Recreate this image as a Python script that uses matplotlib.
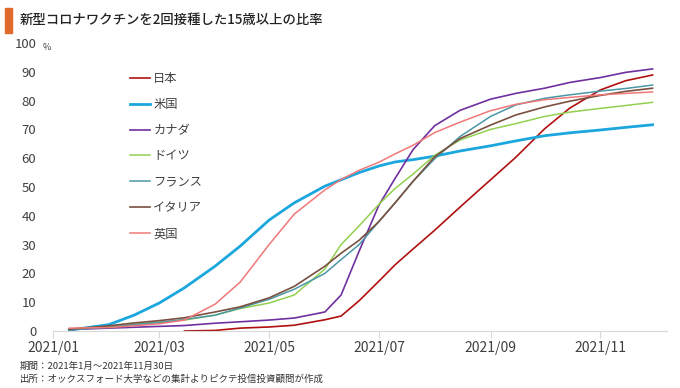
import matplotlib
matplotlib.use("Agg")
import matplotlib.pyplot as plt
import matplotlib.dates as mdates
import numpy as np
import pandas as pd

plt.rcParams['font.family'] = ['Noto Sans CJK JP', 'DejaVu Sans']

# data (share of population 15+ fully vaccinated, %)
dates = pd.to_datetime([
    "2021-01-10", "2021-02-01", "2021-02-15", "2021-03-01", "2021-03-15",
    "2021-04-01", "2021-04-15", "2021-05-01", "2021-05-15", "2021-06-01",
    "2021-06-10", "2021-06-20", "2021-07-01", "2021-07-10", "2021-07-20",
    "2021-08-01", "2021-08-15", "2021-09-01", "2021-09-15", "2021-10-01",
    "2021-10-15", "2021-11-01", "2021-11-15", "2021-11-30"])

japan = [np.nan, np.nan, np.nan, np.nan, 0.0, 0.2, 1.0, 1.4, 2.0, 3.9,
         5.2, 10.5, 17.3, 23.0, 28.5, 35.0, 43.0, 52.5, 60.3, 70.2,
         77.4, 83.7, 86.9, 88.9]
usa = [0.3, 2.2, 5.5, 9.7, 15.0, 22.5, 29.5, 38.5, 44.5, 50.3,
       52.5, 55.0, 57.3, 58.7, 59.5, 60.7, 62.5, 64.3, 66.0, 67.8,
       68.8, 69.8, 70.7, 71.6]
canada = [0.5, 1.0, 1.3, 1.6, 1.9, 2.7, 3.2, 3.8, 4.5, 6.6,
          12.5, 27.7, 43.7, 53.0, 63.0, 71.3, 76.6, 80.5, 82.5, 84.3,
          86.3, 88.0, 89.8, 91.0]
germany = [0.5, 1.5, 2.3, 3.0, 3.8, 5.5, 7.8, 9.7, 12.5, 21.5,
           30.0, 36.5, 44.0, 49.5, 54.5, 61.0, 66.3, 70.0, 72.0, 74.5,
           76.0, 77.3, 78.3, 79.4]
france = [0.5, 1.3, 2.2, 3.0, 4.0, 5.5, 8.0, 11.0, 14.5, 20.0,
          24.8, 30.0, 38.0, 44.5, 52.0, 59.8, 67.5, 74.5, 78.5, 80.8,
          82.0, 83.3, 84.2, 85.4]
italy = [0.6, 1.8, 2.8, 3.6, 4.6, 6.6, 8.4, 11.5, 15.5, 22.5,
         27.0, 31.5, 38.0, 44.5, 52.0, 60.5, 66.8, 71.5, 75.0, 77.8,
         79.8, 81.8, 83.2, 84.3]
uk = [1.0, 1.2, 1.8, 2.5, 3.8, 9.3, 17.0, 30.0, 40.6, 49.0,
      52.6, 55.8, 58.6, 61.5, 64.5, 68.9, 72.5, 76.5, 78.7, 80.3,
      81.1, 82.0, 82.5, 83.0]

names = ["日本", "米国", "カナダ", "ドイツ", "フランス", "イタリア", "英国"]
series = [japan, usa, canada, germany, france, italy, uk]
colors = ["#B01010", "#1BA7DD", "#7030A0", "#92D050", "#4A97A6", "#7A5040", "#F07878"]
widths = [1.2, 2.0, 1.2, 1.1, 1.1, 1.2, 1.1]

fig = plt.figure(figsize=(6.8, 3.88), dpi=100)
ax = fig.add_axes([53 / 680, 1 - 331 / 388, 614 / 680, 288 / 388])

for name, vals, c, lw in zip(names, series, colors, widths):
    ax.plot(dates, vals, color=c, lw=lw, label=name)

ax.set_xlim(pd.Timestamp("2021-01-01"), pd.Timestamp("2021-12-08"))
ax.set_ylim(0, 100)
ax.set_yticks(range(0, 101, 10))
ax.xaxis.set_major_locator(mdates.MonthLocator(bymonth=[1, 3, 5, 7, 9, 11]))
ax.xaxis.set_major_formatter(mdates.DateFormatter("%Y/%m"))

for s in ["top", "right", "left"]:
    ax.spines[s].set_visible(False)
ax.spines["bottom"].set_color("#D9D9D9")
ax.tick_params(axis="y", length=0, pad=12, labelsize=9.5, labelcolor="#404040")
ax.tick_params(axis="x", length=5, color="#D9D9D9", labelsize=10,
               labelcolor="#404040", pad=2)

fig.text(43 / 680, 1 - 47 / 388, "%", fontsize=6.5, color="#404040",
         ha="left", va="center")

leg = ax.legend(loc="upper left", bbox_to_anchor=(124 / 680, 1 - 66 / 388),
                bbox_transform=fig.transFigure, frameon=False, fontsize=8.8,
                labelspacing=1.05, handlelength=1.6, handletextpad=0.3,
                borderpad=0)
for t in leg.get_texts():
    t.set_color("#404040")

# title with orange bar
fig.patches.append(plt.Rectangle((5 / 680, 1 - 33 / 388), 7 / 680, 25 / 388,
                                 transform=fig.transFigure, color="#E06A2B"))
fig.text(20 / 680, 1 - 20 / 388, "新型コロナワクチンを2回接種した15歳以上の比率",
         fontsize=9.6, color="#222222", ha="left", va="center", weight="medium")

fig.text(20 / 680, 1 - 366 / 388, "期間：2021年1月～2021年11月30日",
         fontsize=6.8, color="#333333", ha="left", va="center")
fig.text(20 / 680, 1 - 379 / 388, "出所：オックスフォード大学などの集計よりピクテ投信投資顧問が作成",
         fontsize=6.8, color="#333333", ha="left", va="center")

fig.savefig("out.png", dpi=100)
